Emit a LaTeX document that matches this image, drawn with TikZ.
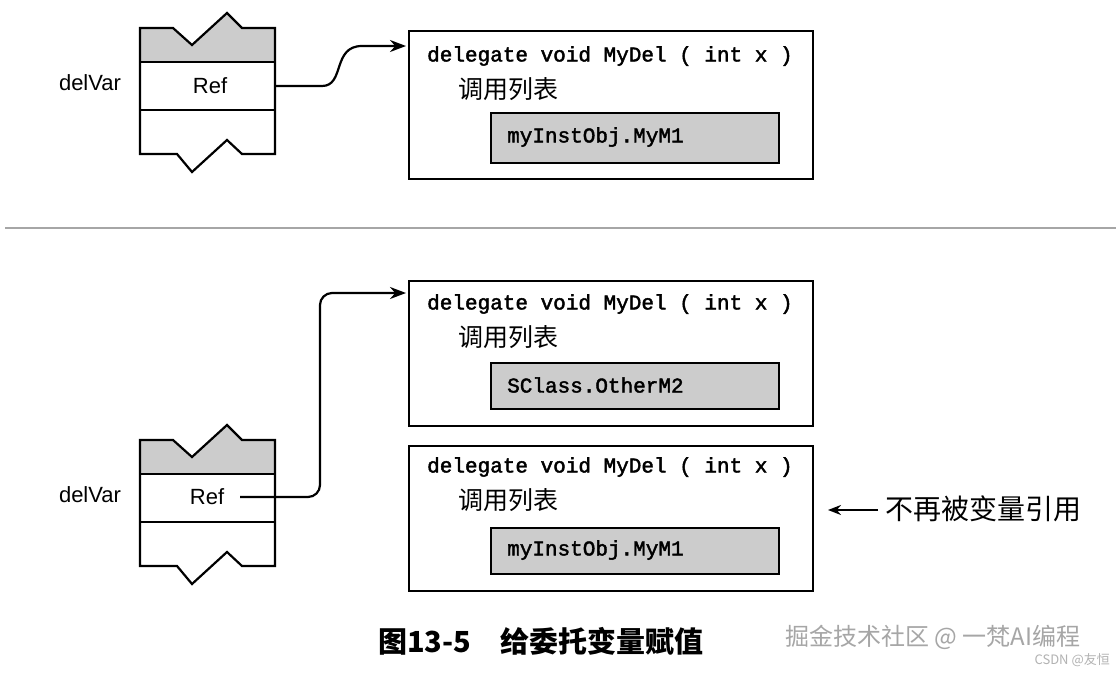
\documentclass[tikz,border=0pt]{standalone}
\usepackage{fontspec}
\usetikzlibrary{arrows.meta}
\setmainfont{Liberation Sans}
\newfontfamily\cjk{Noto Sans CJK SC}
\newfontfamily\code{Liberation Mono}[FakeBold=2]
\begin{document}
\begin{tikzpicture}[x=1pt,y=-1pt,
  line/.style={line width=2.2pt,line join=miter},
  box/.style={draw,line width=2.2pt,minimum width=404pt,anchor=north west,inner sep=0},
  inner/.style={draw,line width=2.2pt,fill=gray!40,anchor=north west,minimum width=288pt,inner sep=0},
  codet/.style={font=\code\fontsize{21}{22}\selectfont,anchor=west,inner sep=0},
  cn/.style={font=\cjk\fontsize{25}{27}\selectfont,anchor=west,inner sep=0},
  lab/.style={font=\fontsize{22}{24}\selectfont},
  arr/.style={line width=2.2pt,-{Stealth[length=16pt,width=12pt]},rounded corners=12pt}]
\useasboundingbox (0,0) rectangle (1116,675);
\fill[white] (0,0) rectangle (1116,675);
% stacks
\foreach \o/\n in {0/a,412/b}{
 \begin{scope}[yshift=-\o pt]
  \fill[gray!40] (140,28)--(173,28)--(192,45)--(227,13)--(242,28)--(275,28)--(275,62)--(140,62)--cycle;
  \draw[line] (140,28)--(173,28)--(192,45)--(227,13)--(242,28)--(275,28)--(275,154)--(242,154)--(227,140)--(192,172)--(177,154)--(140,154)--cycle;
  \draw[line] (140,62)--(275,62) (140,110)--(275,110);
 \end{scope}}
\node[lab] (refa) at (210,86) {Ref};
\node[lab] (refb) at (207,497) {Ref};
\node[lab] (dva) at (90,83) {delVar};
\node[lab] (dvb) at (90,495) {delVar};
% boxes
\node[box,minimum height=148pt] (b1) at (408,30) {};
\node[box,minimum height=145pt] (b2) at (408,280) {};
\node[box,minimum height=145pt] (b3) at (408,445) {};
\node[codet] (c1) at (427,56) {delegate void MyDel ( int x )};
\node[cn] (l1) at (458,89) {调用列表};
\node[inner,minimum height=50pt] (i1) at (490,112) {};
\node[codet] at (507,137) {myInstObj.MyM1};
\node[codet] (c2) at (427,304) {delegate void MyDel ( int x )};
\node[cn] (l2) at (458,337) {调用列表};
\node[inner,minimum height=46pt] (i2) at (490,362) {};
\node[codet] at (507,385) {SClass.OtherM2};
\node[codet] (c3) at (427,467) {delegate void MyDel ( int x )};
\node[cn] (l3) at (458,500) {调用列表};
\node[inner,minimum height=46pt] (i3) at (490,527) {};
\node[codet] at (507,550) {myInstObj.MyM1};
% arrows
\coordinate (ea) at (406,46);
\coordinate (eb) at (406,293);
\coordinate (sb) at (240,497);
\draw[line width=2.2pt,-{Stealth[length=16pt,width=12pt]}] (275,86) -- (322,86) .. controls (345,86) and (332,46) .. (362,46) -- (ea);
\draw[arr] (sb) -- (320,497) -- (320,293) -- (eb);
% separator
\draw[gray!70,line width=1.4pt] (5,228) -- (1116,228);
% note
\coordinate (na) at (828,510);
\coordinate (nb) at (878,510);
\draw[line width=2.2pt,-{Stealth[length=13pt,width=10pt]}] (nb) -- (na);
\node[cn,font=\cjk\fontsize{28}{30}\selectfont] (note) at (885,509) {不再被变量引用};
% caption
\node[font=\cjk\fontsize{29}{31}\selectfont\bfseries,anchor=west,inner sep=0] (cap) at (378,641) {图13-5\quad 给委托变量赋值};
\node[font=\cjk\fontsize{24}{26}\selectfont,text=gray!70,anchor=west,inner sep=0] (wm) at (785,637) {掘金技术社区 @ 一梵AI编程};
\node[font=\cjk\fontsize{13}{14}\selectfont,text=gray!60,anchor=east,inner sep=0] (wm2) at (1110,660) {CSDN @友恒};
\end{tikzpicture}
\end{document}
